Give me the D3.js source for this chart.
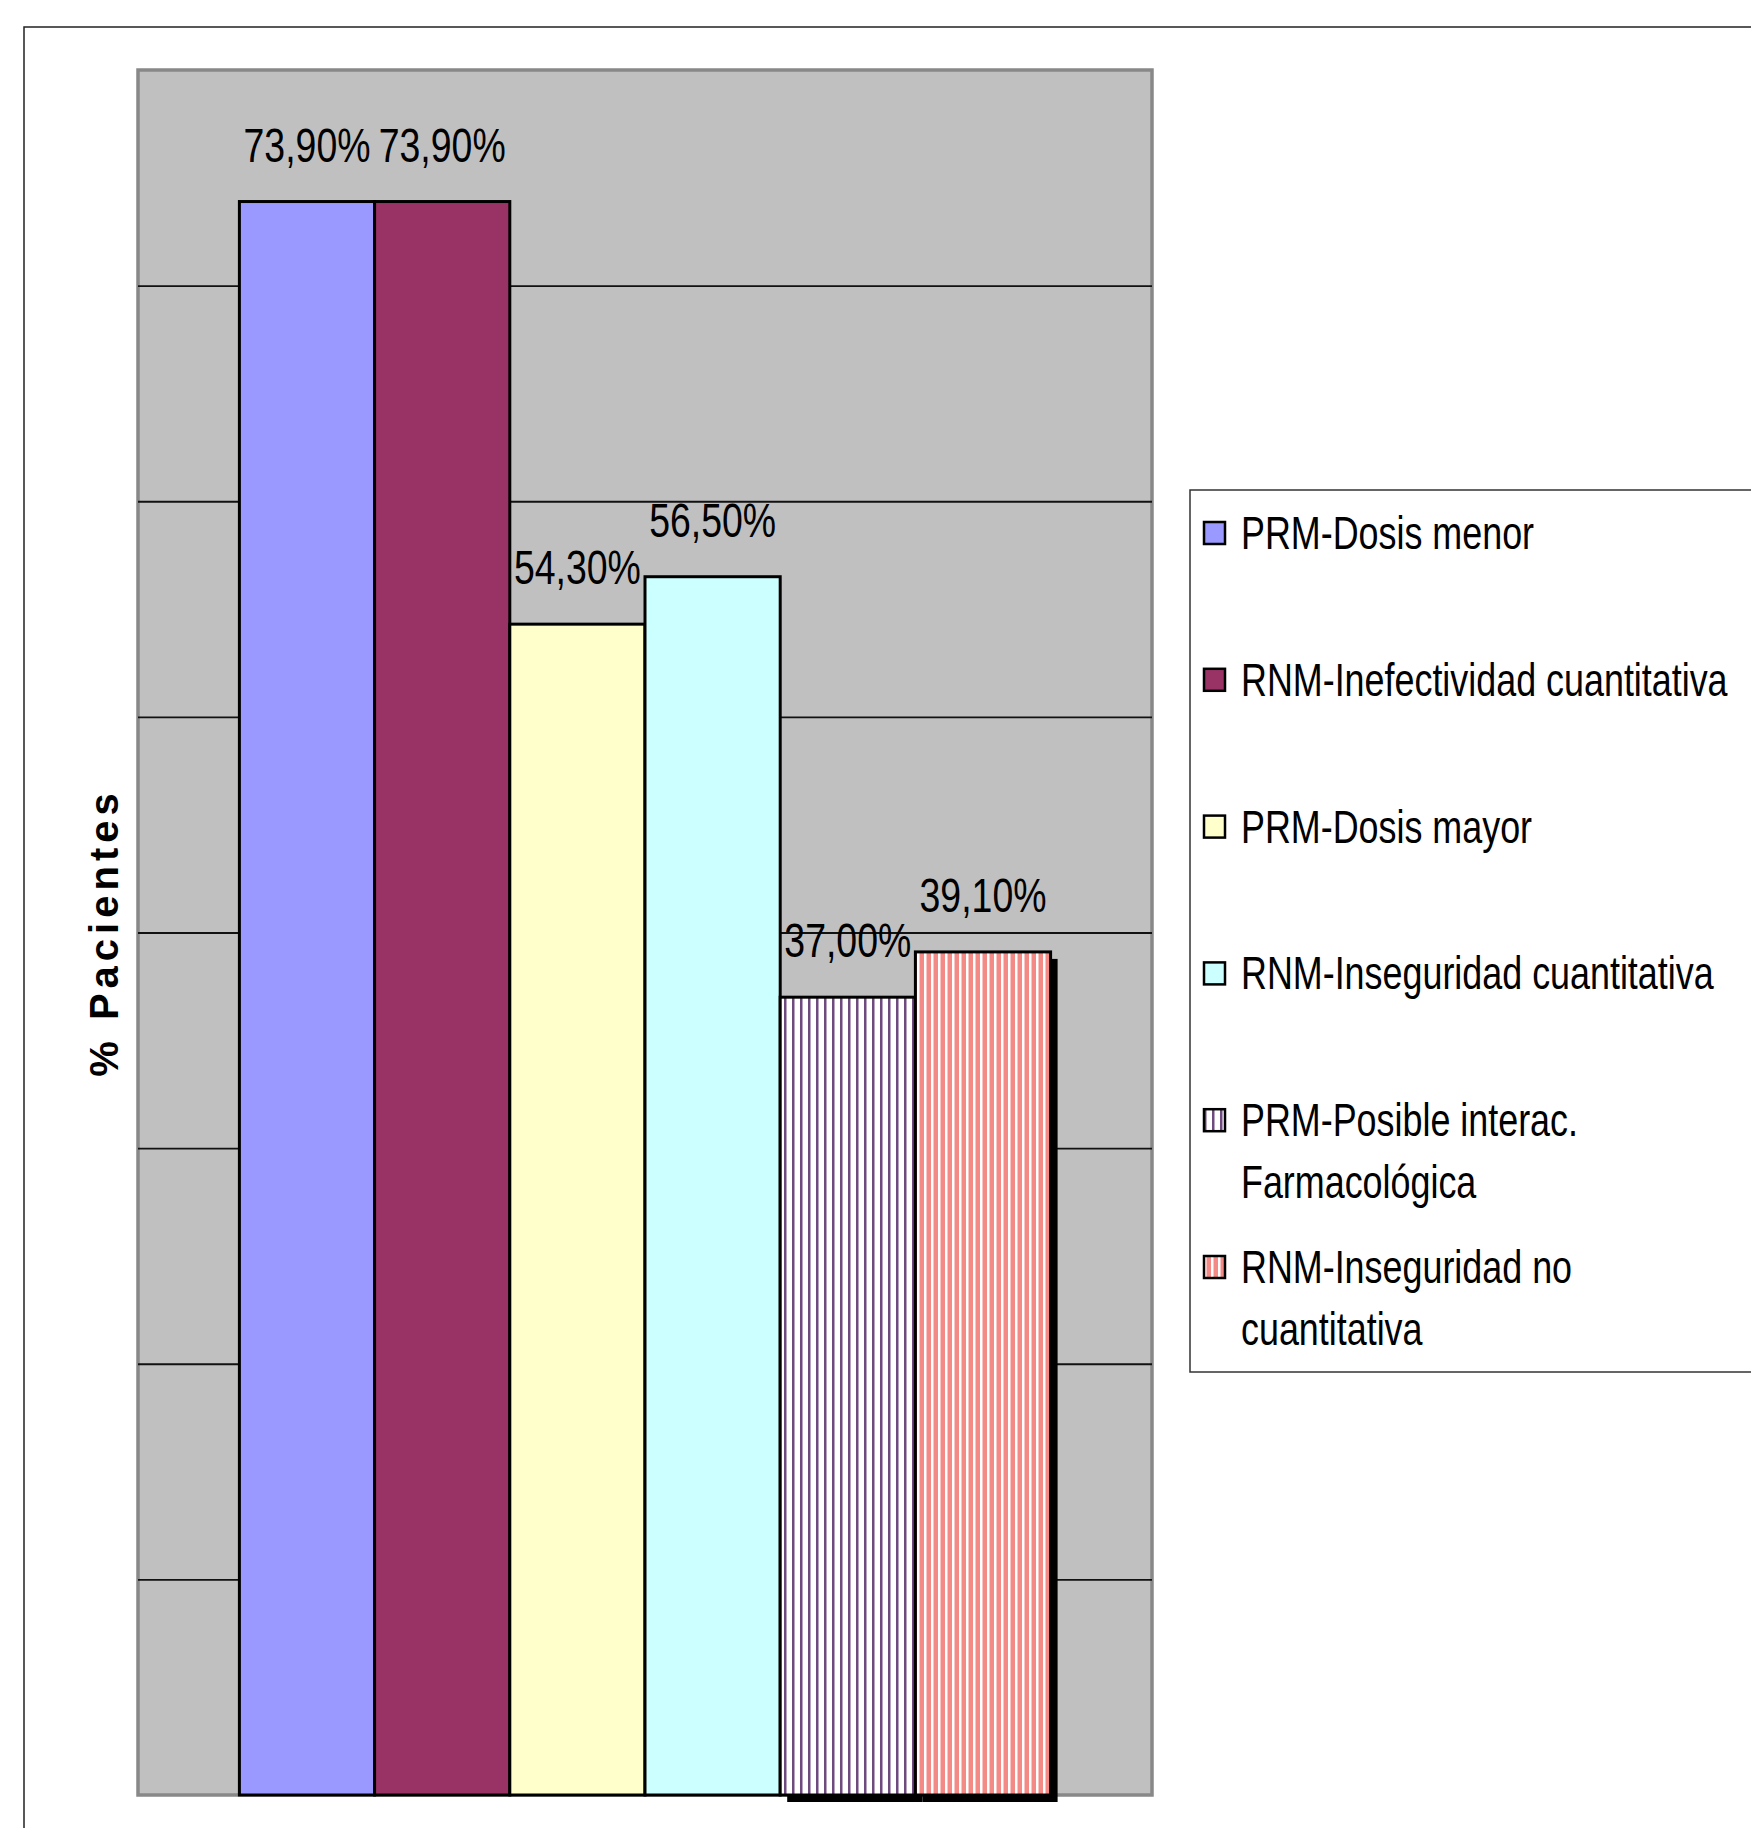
<!DOCTYPE html>
<html lang='es'>
<head>
<meta charset='utf-8'>
<title>% Pacientes</title>
<script src='https://cdn.jsdelivr.net/npm/d3@7'></script>
<style>
  body { margin: 0; background: #fff; }
  svg { display: block; }
  .narrow { font-family: 'Liberation Sans', Arial, sans-serif; }
</style>
</head>
<body>
<script>
// data
var categories = ['PRM-Dosis menor', 'RNM-Inefectividad cuantitativa', 'PRM-Dosis mayor',
                  'RNM-Inseguridad cuantitativa', 'PRM-Posible interac. Farmacológica', 'RNM-Inseguridad no cuantitativa'];
var values = [73.9, 73.9, 54.3, 56.5, 37.0, 39.1];
var legendLines = [['PRM-Dosis menor'], ['RNM-Inefectividad cuantitativa'], ['PRM-Dosis mayor'],
                   ['RNM-Inseguridad cuantitativa'], ['PRM-Posible interac.', 'Farmacológica'],
                   ['RNM-Inseguridad no', 'cuantitativa']];
var yMax = 80, yStep = 10;
var fills = ['#9999ff', '#993366', '#ffffcc', '#ccffff', 'url(#stripePurple)', 'url(#stripeSalmon)'];

var width = 1751, height = 1828;
var plot = {left: 138, top: 70, right: 1152, bottom: 1795};
var squeeze = 0.78; // no narrow font installed, so squash Liberation Sans

var svg = d3.select('body').append('svg').attr('width', width).attr('height', height);

// patterns for the two striped bars
var defs = svg.append('defs');
var p1 = defs.append('pattern').attr('id', 'stripePurple').attr('patternUnits', 'userSpaceOnUse')
  .attr('width', 8).attr('height', 8);
p1.append('rect').attr('width', 8).attr('height', 8).attr('fill', '#ffffff');
p1.append('rect').attr('x', 0).attr('width', 2.5).attr('height', 8).attr('fill', '#6e4a7e');
var p2 = defs.append('pattern').attr('id', 'stripeSalmon').attr('patternUnits', 'userSpaceOnUse')
  .attr('width', 7).attr('height', 8);
p2.append('rect').attr('width', 7).attr('height', 8).attr('fill', '#f48a86');
p2.append('rect').attr('x', 0).attr('width', 2.5).attr('height', 8).attr('fill', '#ffffff');

// chart frame (runs off the page on right/bottom)
svg.append('rect').attr('x', 24).attr('y', 27).attr('width', width).attr('height', height)
  .attr('fill', 'none').attr('stroke', '#222').attr('stroke-width', 1.5);

// plot area
svg.append('rect').attr('x', plot.left).attr('y', plot.top)
  .attr('width', plot.right - plot.left).attr('height', plot.bottom - plot.top)
  .attr('fill', '#c0c0c0').attr('stroke', '#888').attr('stroke-width', 3.5);

var y = d3.scaleLinear().domain([0, yMax]).range([plot.bottom, plot.top]);
var gap = 0.75; // half of excel's 150% gap width, in bar widths
var barW = (plot.right - plot.left) / (categories.length + 2 * gap);
var x = d3.scaleBand().domain(categories)
  .range([plot.left + gap * barW, plot.right - gap * barW]).padding(0);

// gridlines through an axis with no labels
var grid = svg.append('g').attr('transform', 'translate(' + plot.left + ',0)')
  .call(d3.axisLeft(y).tickValues(d3.range(yStep, yMax, yStep))
    .tickSize(-(plot.right - plot.left)).tickFormat(''));
grid.select('.domain').remove();
grid.selectAll('line').attr('stroke', '#111').attr('stroke-width', 1.8);

// shadows under the striped bars
svg.selectAll('rect.shadow').data(categories.slice(4)).enter().append('rect')
  .attr('class', 'shadow')
  .attr('x', d => x(d) + 7)
  .attr('y', d => y(values[categories.indexOf(d)]) + 7)
  .attr('width', x.bandwidth())
  .attr('height', d => plot.bottom - y(values[categories.indexOf(d)]))
  .attr('fill', '#000');

svg.selectAll('rect.bar').data(categories).enter().append('rect')
  .attr('class', 'bar')
  .attr('x', d => x(d))
  .attr('y', (d, i) => y(values[i]))
  .attr('width', x.bandwidth())
  .attr('height', (d, i) => plot.bottom - y(values[i]))
  .attr('fill', (d, i) => fills[i])
  .attr('stroke', '#000').attr('stroke-width', 3);

var es = d3.formatLocale({decimal: ',', thousands: '.', grouping: [3], currency: ['', '€']});
var fmt = es.format('.2f');

svg.selectAll('text.val').data(categories).enter().append('text')
  .attr('class', 'val narrow')
  .attr('transform', (d, i) => 'translate(' + (x(d) + x.bandwidth() / 2) + ',' + (y(values[i]) - 40) + ') scale(' + squeeze + ',1)')
  .attr('text-anchor', 'middle')
  .attr('font-size', 48)
  .attr('fill', '#000')
  .text((d, i) => fmt(values[i]) + '%');

// y title
svg.append('text')
  .attr('transform', 'translate(118,' + ((plot.top + plot.bottom) / 2) + ') rotate(-90)')
  .attr('text-anchor', 'middle')
  .attr('font-family', 'Liberation Sans, Arial, sans-serif')
  .attr('font-weight', 'bold').attr('font-size', 40).attr('letter-spacing', 5)
  .text('% Pacientes');

// legend
var leg = {left: 1190, top: 490, bottom: 1372};
svg.append('rect').attr('x', leg.left).attr('y', leg.top).attr('width', width).attr('height', leg.bottom - leg.top)
  .attr('fill', '#fff').attr('stroke', '#333').attr('stroke-width', 1.5);

var items = svg.selectAll('g.item').data(categories).enter().append('g')
  .attr('class', 'item')
  .attr('transform', (d, i) => 'translate(' + (leg.left + 14) + ',' + (533 + i * 146.8) + ')');
items.append('rect').attr('x', 0).attr('y', -11).attr('width', 21).attr('height', 22)
  .attr('fill', (d, i) => fills[i]).attr('stroke', '#000').attr('stroke-width', 2.5);
items.each(function(d, i) {
  var t = d3.select(this).append('text').attr('class', 'narrow').attr('font-size', 46).attr('fill', '#000')
    .attr('transform', 'translate(37,0) scale(' + squeeze + ',1)');
  legendLines[i].forEach(function(line, j) {
    t.append('tspan').attr('x', 0).attr('y', 16 + j * 62).text(line);
  });
});
</script>
</body>
</html>
